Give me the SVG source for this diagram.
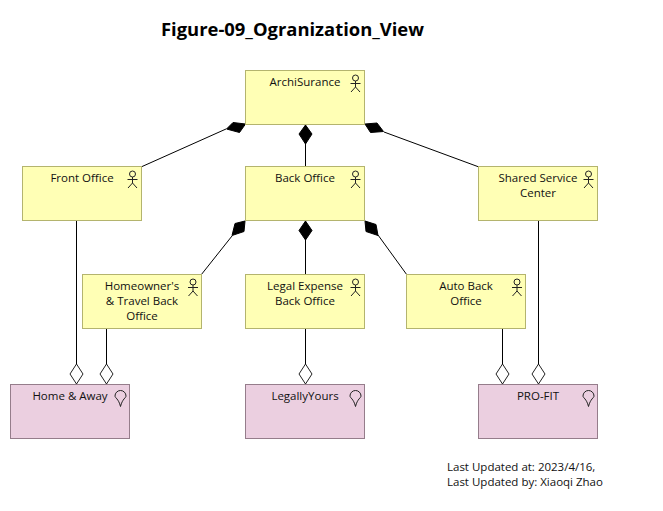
<svg xmlns="http://www.w3.org/2000/svg" width="663" height="511" viewBox="0 0 663 511">
<style>
text{font-family:"Open Sans","Noto Sans","Liberation Sans",sans-serif;font-size:11.5px;fill:#111;text-anchor:middle}
.t{font-size:18.400px;font-weight:700;text-anchor:start;font-family:"Open Sans","Liberation Sans",sans-serif;fill:#000}
.n{text-anchor:start}
.a{fill:#ffffb5;stroke:#b4b46e}
.l{fill:#ebcfe0;stroke:#957d8b}
.i{fill:none;stroke:#222;stroke-width:1}
.c{fill:none;stroke:#000;stroke-width:1}
.f{fill:#000;stroke:#000}
.o{fill:#fff;stroke:#222}
</style>
<defs>
<g id="actor" class="i"><circle cx="0" cy="-6" r="3"/><path d="M0-3V3M-5-.5H5M0 3L-4.500 8M0 3L4.500 8"/></g>
<path id="loc" class="i" d="M0 7.500C-2-.5-5.500-1-5.500-3A5.500 5.500 0 0 1 5.500-3C5.500-1 2-.5 0 7.500Z"/>
<path id="ov" class="o" d="M0 0L6.500-10L0-20L-6.500-10Z"/>
</defs>
<rect width="663" height="511" fill="#fff"/>
<text class="t" x="161" y="36">Figure-09_Ogranization_View</text>
<g id="connectors">
<path class="c" d="M305.500 124V166M226 129L141 167M384 132L479 167M305.500 220V274M232 236L201 275M378 235L407 275M76.500 220V384M106.500 328V384M305.500 328V384M502.500 328V384M538.500 220V384"/>
<path class="f" d="M245.500 124L233 122.500L226.500 129L239.500 132.500Z"/>
<path class="f" d="M305.500 125L312 134L305.500 144L299 134Z"/>
<path class="f" d="M365 124L377 123L383.500 131.500L370.500 132.500Z"/>
<path class="f" d="M245 221L235 223.500L232 235.500L244 231.500Z"/>
<path class="f" d="M305.500 221L312 230.500L305.500 240L299 230.500Z"/>
<path class="f" d="M365 221L376 224.500L378 235.500L366 231.500Z"/>
<use href="#ov" x="76.500" y="384"/>
<use href="#ov" x="106.500" y="384"/>
<use href="#ov" x="305.500" y="384"/>
<use href="#ov" x="502.500" y="384"/>
<use href="#ov" x="538.500" y="384"/>
</g>
<g id="archisurance"><rect class="a" x="245.500" y="70.500" width="119" height="54"/><text x="305" y="86">ArchiSurance</text><use href="#actor" x="355.500" y="84"/></g>
<g id="front-office"><rect class="a" x="22.500" y="166.500" width="119" height="54"/><text x="82" y="182">Front Office</text><use href="#actor" x="132.500" y="180"/></g>
<g id="back-office"><rect class="a" x="245.500" y="166.500" width="119" height="54"/><text x="305" y="182">Back Office</text><use href="#actor" x="355.500" y="180"/></g>
<g id="shared-service-center"><rect class="a" x="478.500" y="166.500" width="119" height="54"/><text x="538" y="182">Shared Service</text><text x="538" y="197">Center</text><use href="#actor" x="588.500" y="180"/></g>
<g id="homeowners"><rect class="a" x="82.500" y="274.500" width="119" height="54"/><text x="142" y="290">Homeowner's</text><text x="142" y="305">&amp; Travel Back</text><text x="142" y="320">Office</text><use href="#actor" x="193" y="288"/></g>
<g id="legal-expense"><rect class="a" x="245.500" y="274.500" width="119" height="54"/><text x="305" y="290">Legal Expense</text><text x="305" y="305">Back Office</text><use href="#actor" x="355.500" y="288"/></g>
<g id="auto-back-office"><rect class="a" x="406.500" y="274.500" width="119" height="54"/><text x="466" y="290">Auto Back</text><text x="466" y="305">Office</text><use href="#actor" x="517" y="288"/></g>
<g id="home-away"><rect class="l" x="10.500" y="384.500" width="119" height="54"/><text x="70" y="400">Home &amp; Away</text><use href="#loc" x="120.500" y="399"/></g>
<g id="legallyyours"><rect class="l" x="245.500" y="384.500" width="119" height="54"/><text x="305" y="400">LegallyYours</text><use href="#loc" x="355.500" y="399"/></g>
<g id="pro-fit"><rect class="l" x="478.500" y="384.500" width="119" height="54"/><text x="538" y="400">PRO-FIT</text><use href="#loc" x="588.500" y="399"/></g>
<g id="note"><text class="n" x="447" y="471">Last Updated at: 2023/4/16,</text><text class="n" x="447" y="486">Last Updated by: Xiaoqi Zhao</text></g>
</svg>
